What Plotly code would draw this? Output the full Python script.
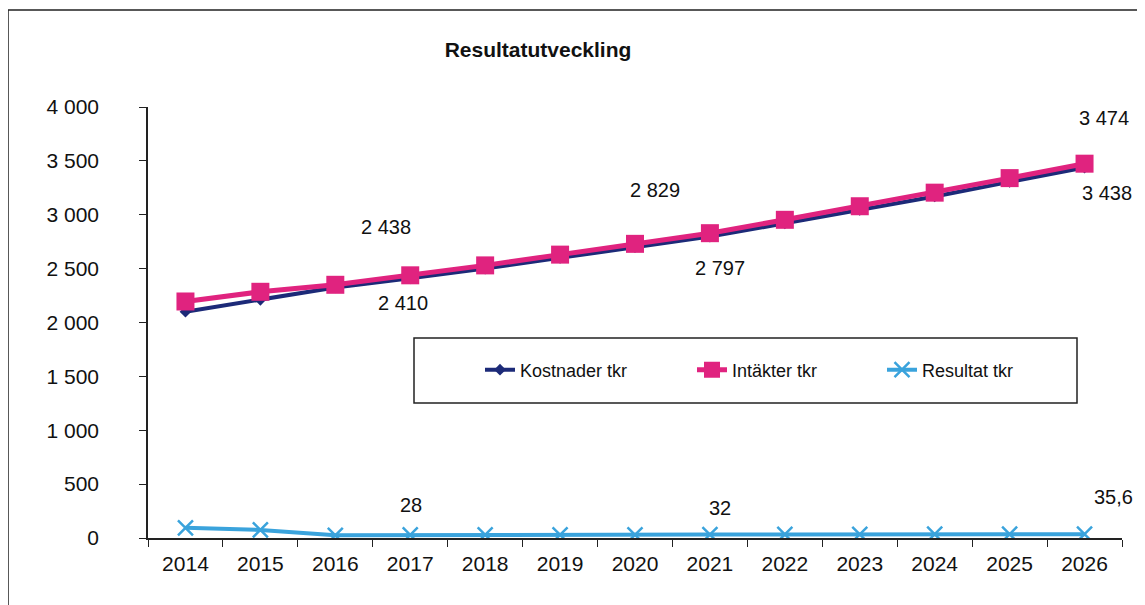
import plotly.graph_objects as go

years = ["2014", "2015", "2016", "2017", "2018", "2019", "2020",
         "2021", "2022", "2023", "2024", "2025", "2026"]
kostnader = [2100, 2210, 2325, 2410, 2500, 2600, 2700, 2797, 2920, 3045, 3170, 3305, 3438]
intakter = [2195, 2285, 2350, 2438, 2530, 2630, 2730, 2829, 2953, 3079, 3205, 3340, 3474]
resultat = [95, 75, 25, 28, 30, 30, 30, 32, 33, 34, 35, 35, 35.6]

y_ticks = [0, 500, 1000, 1500, 2000, 2500, 3000, 3500, 4000]
y_ticktext = ["0", "500", "1 000", "1 500", "2 000", "2 500", "3 000", "3 500", "4 000"]

# labelled points: (series, index, xshift, yshift)
label_specs = [
    ("int", 3, -24, 48), ("kos", 3, -7, -25),
    ("int", 7, -55, 43), ("kos", 7, 10, -31),
    ("int", 12, 19, 46), ("kos", 12, 22, -25),
    ("res", 3, 1, 30), ("res", 7, 10, 27), ("res", 12, 29, 37),
]

def fmt(v):
    if isinstance(v, float) and not v.is_integer():
        return f"{v:.1f}".replace(".", ",")
    return f"{int(v):,}".replace(",", " ")

FONT = "Liberation Sans, Arial, sans-serif"

# plot area in figure pixels
PL, PR, PT, PB = 140, 1114, 99, 530
PW, PH = PR - PL, PB - PT

def px(xf):
    return (xf - PL) / PW

def py(yf):
    return (PB - yf) / PH

fig = go.Figure()
fig.add_trace(go.Scatter(
    x=years, y=kostnader, name="Kostnader tkr", mode="lines+markers",
    line=dict(color="#1c2a78", width=4),
    marker=dict(symbol="diamond", size=9, color="#1c2a78"),
    legend="legend",
))
fig.add_trace(go.Scatter(
    x=years, y=intakter, name="Intäkter tkr", mode="lines+markers",
    line=dict(color="#e0237f", width=5),
    marker=dict(symbol="square", size=18, color="#e0237f"),
    legend="legend2",
))
fig.add_trace(go.Scatter(
    x=years, y=resultat, name="Resultat tkr", mode="lines+markers",
    line=dict(color="#3aa3dc", width=4),
    marker=dict(symbol="x-thin", size=15, color="#3aa3dc",
                line=dict(color="#3aa3dc", width=2.5)),
    legend="legend3",
))

series = {"kos": kostnader, "int": intakter, "res": resultat}
for key, i, xs, ys in label_specs:
    v = series[key][i]
    fig.add_annotation(x=i, y=v, xref="x", yref="y", text=fmt(v), showarrow=False,
                       xshift=xs, yshift=ys,
                       font=dict(family=FONT, size=20, color="#111"))

# outer frame
fig.add_shape(type="rect", xref="paper", yref="paper",
              x0=px(0), x1=1.1, y0=-0.3, y1=py(2),
              line=dict(color="#222", width=1.5), layer="below")
# legend frame
fig.add_shape(type="rect", xref="paper", yref="paper",
              x0=px(406), x1=px(1069), y0=py(395), y1=py(330),
              line=dict(color="#222", width=1.5), fillcolor="white", layer="above")

leg_common = dict(orientation="h", xanchor="left", yanchor="middle", y=py(362),
                  bgcolor="rgba(0,0,0,0)", borderwidth=0,
                  font=dict(family=FONT, size=18, color="#111"))

fig.update_layout(
    width=1145, height=605,
    margin=dict(l=PL, r=1145 - PR, t=PT, b=605 - PB),
    paper_bgcolor="white", plot_bgcolor="white",
    font=dict(family=FONT, size=20, color="#111"),
    title=dict(text="<b>Resultatutveckling</b>", x=530 / 1145, xanchor="center",
               y=1 - 42 / 605, yanchor="middle",
               font=dict(family=FONT, size=21, color="#111")),
    showlegend=True,
    legend=dict(x=px(472), **leg_common),
    legend2=dict(x=px(684), **leg_common),
    legend3=dict(x=px(874), **leg_common),
    xaxis=dict(type="category", range=[-0.5, 12.5], showgrid=False,
               showline=True, linecolor="#222", linewidth=1.5,
               ticks="outside", tickson="boundaries", ticklen=7,
               tickcolor="#222", tickfont=dict(size=21), ticklabelstandoff=6),
    yaxis=dict(range=[0, 4000], tickvals=y_ticks, ticktext=y_ticktext,
               showgrid=False, zeroline=False, showline=True,
               linecolor="#222", linewidth=1.5, ticks="outside", ticklen=7,
               tickcolor="#222", tickfont=dict(size=21), ticklabelstandoff=36),
)

fig.write_html("out.html")
